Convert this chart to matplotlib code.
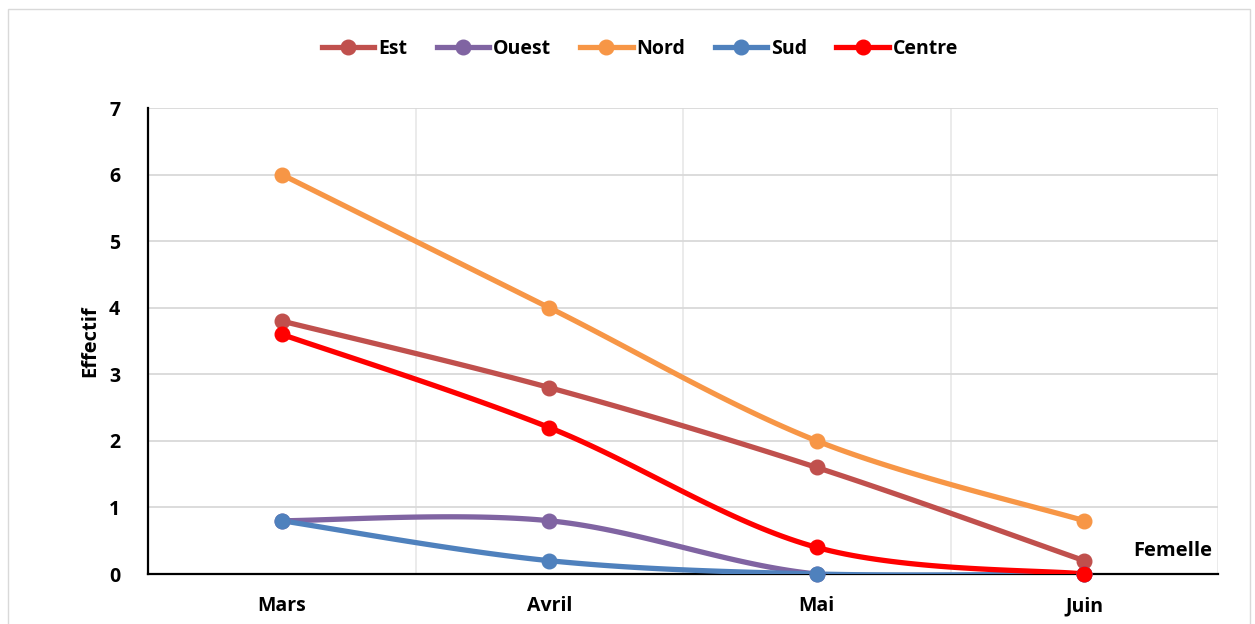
import numpy as np
import matplotlib
matplotlib.use('Agg')
import matplotlib.pyplot as plt
from matplotlib.lines import Line2D
from matplotlib.patches import Rectangle

# data
mois = ['Mars', 'Avril', 'Mai', 'Juin']
series_names = ['Est', 'Ouest', 'Nord', 'Sud', 'Centre']
est = [3.8, 2.8, 1.6, 0.2]
ouest = [0.8, 0.8, 0.0, 0.0]
nord = [6.0, 4.0, 2.0, 0.8]
sud = [0.8, 0.2, 0.0, 0.0]
centre = [3.6, 2.2, 0.4, 0.0]
colors = ['#C0504D', '#8064A2', '#F79646', '#4F81BD', '#FF0000']

plt.rcParams['font.family'] = ['Open Sans', 'DejaVu Sans']
plt.rcParams['font.weight'] = 'bold'


def smooth(xs, ys, n=40):
    # Excel-like smoothed line (Catmull-Rom bezier)
    p = np.column_stack([xs, ys]).astype(float)
    pts = [p[0]] + list(p) + [p[-1]]
    out = []
    t = np.linspace(0, 1, n)[:, None]
    for i in range(1, len(pts) - 2):
        p0, p1, p2, p3 = pts[i - 1], pts[i], pts[i + 1], pts[i + 2]
        c1 = p1 + (p2 - p0) / 6
        c2 = p2 - (p3 - p1) / 6
        seg = ((1 - t) ** 3) * p1 + 3 * ((1 - t) ** 2) * t * c1 + 3 * (1 - t) * t ** 2 * c2 + t ** 3 * p2
        out.append(seg if i == 1 else seg[1:])
    out = np.vstack(out)
    return out[:, 0], out[:, 1]


fig = plt.figure(figsize=(12.55, 6.24), dpi=100)
fig.patches.append(Rectangle((0.006, -0.01), 0.99, 0.995, transform=fig.transFigure,
                             fill=False, edgecolor='#d9d9d9', lw=1))
ax = fig.add_axes([148 / 1255, 1 - 574 / 624, 1070 / 1255, 466 / 624])

x = np.arange(len(mois))
handles = []
for name, vals, c in zip(series_names, [est, ouest, nord, sud, centre], colors):
    sx, sy = smooth(x, vals)
    ax.plot(sx, sy, color=c, lw=3.8, solid_capstyle='round', zorder=3)
    ax.plot(x, vals, 'o', color=c, ms=10.5, zorder=4, clip_on=False)
    handles.append(Line2D([], [], color=c, lw=3.8, marker='o', ms=10.5))

ax.set_xlim(-0.5, 3.5)
ax.set_ylim(0, 7)
ax.set_yticks(range(8))
ax.set_xticks(x)
ax.set_xticklabels(mois, fontweight='bold')
ax.set_yticklabels([str(v) for v in range(8)], fontweight='bold')
ax.set_xticks(np.arange(-0.5, 3.6, 0.5), minor=True)
ax.grid(axis='y', color='#d9d9d9', lw=1.3)
ax.grid(axis='x', which='minor', color='#e6e6e6', lw=1.1)
ax.set_axisbelow(True)
ax.tick_params(length=0, which='both', labelsize=14)
ax.tick_params(axis='x', pad=16)
ax.tick_params(axis='y', pad=20)
for s in ['top', 'right']:
    ax.spines[s].set_visible(False)
for s in ['left', 'bottom']:
    ax.spines[s].set_linewidth(1.6)
    ax.spines[s].set_zorder(2)
ax.set_ylabel('Effectif', fontsize=14.5, fontweight='bold', labelpad=6)
ax.text(3.48, 0.2, 'Femelle', ha='right', va='bottom', fontsize=14.5, fontweight='bold')

fig.legend(handles, series_names, loc='center', bbox_to_anchor=(0.51, 1 - 49 / 624), ncol=5,
           frameon=False, prop={'size': 14, 'weight': 'bold'}, handlelength=2.7,
           columnspacing=1.5, handletextpad=0.2)

fig.savefig('out.png', dpi=100)
